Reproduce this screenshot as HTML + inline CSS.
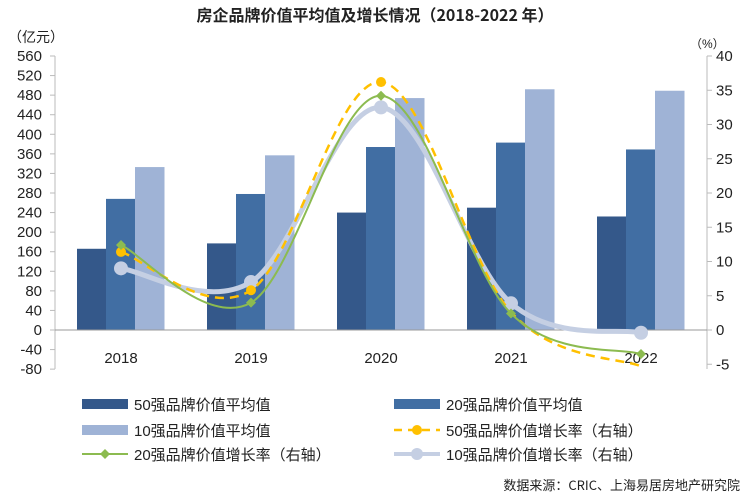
<!DOCTYPE html>
<html><head><meta charset="utf-8"><style>
body{margin:0;background:#fff;width:750px;height:498px;overflow:hidden}
svg text{font-family:"Liberation Sans","Noto Sans CJK SC",sans-serif;fill:#222}
</style></head><body>
<svg id="s" width="750" height="498" xmlns="http://www.w3.org/2000/svg">
<text x="375" y="21" text-anchor="middle" font-size="16" font-weight="bold" style="font-family:'Noto Sans CJK SC',sans-serif">房企品牌价值平均值及增长情况（2018-2022 年）</text>
<text x="8" y="42" font-size="14">（亿元）</text>
<text x="690" y="48" font-size="12">（%）</text>
<g id="g"></g>
<text x="740" y="490" text-anchor="end" font-size="13" style="font-family:'Noto Sans CJK SC',sans-serif" fill="#333">数据来源：CRIC、上海易居房地产研究院</text>
</svg>
<script>
var g=document.getElementById('g'),h='';
function yl(v){return 330-v*274/560}
function yr(v){return 330-v*6.85}
h+='<line x1="55" y1="56" x2="55" y2="369" stroke="#bbb"/>';
h+='<line x1="707" y1="56" x2="707" y2="369" stroke="#bbb"/>';
for(var v=-80;v<=560;v+=40){var y=yl(v);h+='<line x1="50" y1="'+y+'" x2="55" y2="'+y+'" stroke="#bbb"/><text x="42" y="'+(y+5)+'" text-anchor="end" font-size="15">'+v+'</text>';}
for(var v=-5;v<=40;v+=5){var y=yr(v);h+='<line x1="707" y1="'+y+'" x2="712" y2="'+y+'" stroke="#bbb"/><text x="716" y="'+(y+5)+'" font-size="15">'+v+'</text>';}
var d50=[166,177,240,250,232],d20=[268,278,374,383,369],d10=[333,357,474,492,489],cols=['#34588a','#416ea3','#9fb3d6'];
for(var i=0;i<5;i++){var x0=77+i*130;[d50,d20,d10].forEach(function(d,j){h+='<rect x="'+(x0+j*29)+'" y="'+yl(d[i])+'" width="29.5" height="'+(330-yl(d[i]))+'" fill="'+cols[j]+'"/>';});
h+='<text x="'+(121+i*130)+'" y="363" text-anchor="middle" font-size="15">'+(2018+i)+'</text>';}
h+='<line x1="55" y1="330" x2="707" y2="330" stroke="#999"/>';
function path(vals){var p=vals.map(function(v,i){return [121+i*130,yr(v)]});var s='M'+p[0];for(var i=0;i<p.length-1;i++){var a=p[i>0?i-1:0],b=p[i],c=p[i+1],d=p[i+2<p.length?i+2:i+1];var t=0.34;s+=' C'+(b[0]+(c[0]-a[0])*t/2)+','+(b[1]+(c[1]-a[1])*t/2)+' '+(c[0]-(d[0]-b[0])*t/2)+','+(c[1]-(d[1]-b[1])*t/2)+' '+c;}return [s,p];}
var r10=path([9.0,7.0,32.5,3.9,-0.4]),r50=path([11.4,5.8,36.2,2.6,-5.3]),r20=path([12.4,4.0,34.2,2.4,-3.5]);
h+='<path d="'+r10[0]+'" fill="none" stroke="#c5cfe3" stroke-width="5"/>';
r10[1].forEach(function(p){h+='<circle cx="'+p[0]+'" cy="'+p[1]+'" r="7" fill="#c5cfe3"/>'});
h+='<path d="'+r50[0]+'" fill="none" stroke="#ffc000" stroke-width="2.5" stroke-dasharray="9,6"/>';
r50[1].slice(0,3).forEach(function(p){h+='<circle cx="'+p[0]+'" cy="'+p[1]+'" r="5" fill="#ffc000"/>'});
h+='<path d="'+r20[0]+'" fill="none" stroke="#8cbb50" stroke-width="2"/>';
r20[1].forEach(function(p){h+='<path d="M'+p[0]+','+(p[1]-5)+' l5,5 l-5,5 l-5,-5z" fill="#8cbb50"/>'});
var L=[['50强品牌价值平均值',82,404,'b',cols[0]],['20强品牌价值平均值',394,404,'b',cols[1]],['10强品牌价值平均值',82,430,'b',cols[2]],['50强品牌价值增长率（右轴）',394,430,'d'],['20强品牌价值增长率（右轴）',82,454,'g'],['10强品牌价值增长率（右轴）',394,454,'c']];
L.forEach(function(l){var x=l[1],y=l[2];
if(l[3]=='b')h+='<rect x="'+x+'" y="'+(y-5)+'" width="46" height="10" fill="'+l[4]+'"/>';
if(l[3]=='d')h+='<line x1="'+x+'" y1="'+y+'" x2="'+(x+46)+'" y2="'+y+'" stroke="#ffc000" stroke-width="2.5" stroke-dasharray="8,6"/><circle cx="'+(x+23)+'" cy="'+y+'" r="5" fill="#ffc000"/>';
if(l[3]=='g')h+='<line x1="'+x+'" y1="'+y+'" x2="'+(x+46)+'" y2="'+y+'" stroke="#8cbb50" stroke-width="2"/><path d="M'+(x+23)+','+(y-5)+' l5,5 l-5,5 l-5,-5z" fill="#8cbb50"/>';
if(l[3]=='c')h+='<line x1="'+x+'" y1="'+y+'" x2="'+(x+46)+'" y2="'+y+'" stroke="#c5cfe3" stroke-width="4"/><circle cx="'+(x+23)+'" cy="'+y+'" r="6" fill="#c5cfe3"/>';
h+='<text x="'+(x+52)+'" y="'+(y+6)+'" font-size="15">'+l[0]+'</text>';});
g.innerHTML=h;
</script>
</body></html>
